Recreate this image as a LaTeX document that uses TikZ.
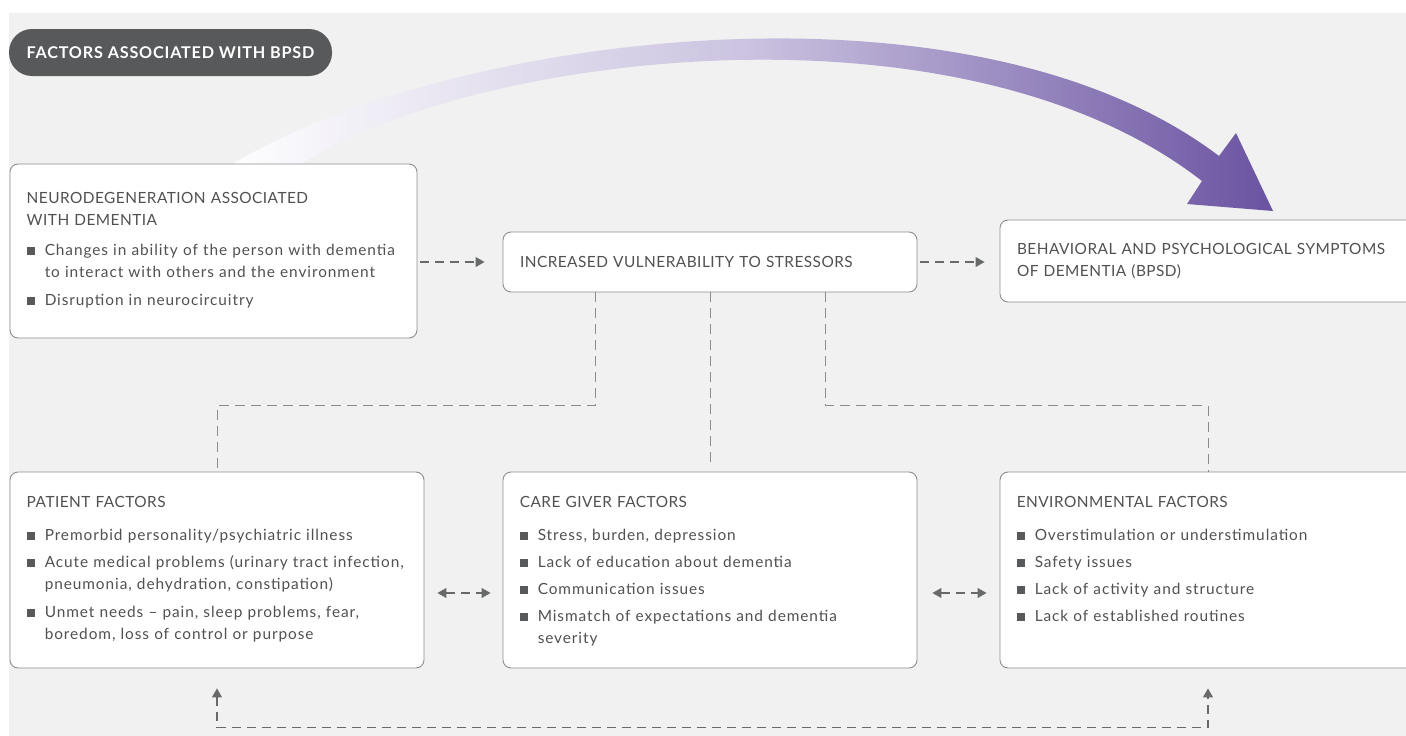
\documentclass[tikz,border=0pt]{standalone}
\usepackage{fontspec}
\setmainfont{Lato}[LetterSpace=6]
\usetikzlibrary{arrows.meta,calc,positioning}
\definecolor{backdrop}{HTML}{F0F1F0}
\definecolor{pill}{HTML}{58595B}
\definecolor{ink}{HTML}{505153}
\definecolor{rim}{HTML}{8E8E8E}
\definecolor{linkgray}{HTML}{68696B}
\definecolor{dropgray}{HTML}{8A8B8C}
\definecolor{lavender}{HTML}{CBC3E0}
\definecolor{violet}{HTML}{6A53A1}
\setlength{\parindent}{0pt}
\newcommand{\headfont}{\addfontfeature{LetterSpace=3}}
\newcommand{\bitem}[1]{\par\vspace{5pt}{\leftskip=18pt\noindent\hspace*{-18pt}\makebox[18pt][l]{\color{pill}\rule[1pt]{8pt}{8pt}}#1\par}}

\begin{document}
\begin{tikzpicture}[x=1pt,y=-1pt,font=\fontsize{15.4}{22}\selectfont,text=ink,
  panel/.style={draw=rim,fill=white,rounded corners=8pt,line width=0.9pt,inner sep=0pt},
  body/.style={anchor=north west,inner sep=0pt,text width=#1,align=left},
  link/.style={draw=linkgray,line width=1.1pt,dash pattern=on 9pt off 6pt},
  drop/.style={draw=dropgray,line width=0.9pt,dash pattern=on 10pt off 6pt},
  tip/.style={-{Triangle[length=9pt,width=10pt]}},
  tips/.style={{Triangle[length=9pt,width=10pt]}-{Triangle[length=9pt,width=10pt]}}]
  \useasboundingbox (0,0) rectangle (1406,736);
  \clip (0,0) rectangle (1406,736);
  \fill[backdrop] (9,13) rectangle (1406,736);

  \node[fill=pill,rounded corners=23pt,minimum width=323pt,minimum height=47pt,inner sep=0pt,
    text=white,font=\fontsize{16.2}{18}\selectfont\bfseries\addfontfeature{LetterSpace=5}] (title) at (170.5,52.5) {FACTORS ASSOCIATED WITH BPSD};

  \shade[left color=white,right color=violet,middle color=lavender]
    (220,172) .. controls (420,40) and (960,-40) .. (1219,156) -- (1236,133) -- (1273,211)
    -- (1187,204) -- (1202,181) .. controls (950,-15) and (440,60) .. (290,172) -- cycle;

  \node[panel,minimum width=407pt,minimum height=174pt] (neuro) at (213.5,251) {};
  \node[panel,minimum width=414pt,minimum height=60pt,text width=380pt,align=left] (vuln) at (710,262)
    {\headfont INCREASED VULNERABILITY TO STRESSORS};
  \node[panel,minimum width=416pt,minimum height=82pt,text width=382pt,align=left] (bpsd) at (1208,261)
    {\headfont BEHAVIORAL AND PSYCHOLOGICAL SYMPTOMS\\OF DEMENTIA (BPSD)};
  \node[panel,minimum width=414pt,minimum height=196pt] (patient) at (217,570) {};
  \node[panel,minimum width=414pt,minimum height=196pt] (carer) at (710,570) {};
  \node[panel,minimum width=416pt,minimum height=196pt] (env) at (1208,570) {};

  \node[body=385pt] (neurotxt) at ([shift={(17pt,-29pt)}]neuro.north west) {{\headfont NEURODEGENERATION ASSOCIATED\\WITH DEMENTIA}\par\vspace{3pt}
    \bitem{Changes in ability of the person with dementia\\to interact with others and the environment}
    \vspace{1pt}\bitem{Disruption in neurocircuitry}};
  \node[body=400pt] (patienttxt) at ([shift={(17pt,-25pt)}]patient.north west) {{\headfont PATIENT FACTORS}\par\vspace{6pt}
    \bitem{Premorbid personality/psychiatric illness}
    \bitem{Acute medical problems (urinary tract infection,\\pneumonia, dehydration, constipation)}
    \vspace{1pt}\bitem{Unmet needs – pain, sleep problems, fear,\\boredom, loss of control or purpose}};
  \node[body=390pt] (carertxt) at ([shift={(17pt,-25pt)}]carer.north west) {{\headfont CARE GIVER FACTORS}\par\vspace{6pt}
    \bitem{Stress, burden, depression}
    \bitem{Lack of education about dementia}
    \bitem{Communication issues}
    \bitem{Mismatch of expectations and dementia\\severity}};
  \node[body=390pt] (envtxt) at ([shift={(17pt,-25pt)}]env.north west) {{\headfont ENVIRONMENTAL FACTORS}\par\vspace{6pt}
    \bitem{Overstimulation or understimulation}
    \bitem{Safety issues}
    \bitem{Lack of activity and structure}
    \bitem{Lack of established routines}};

  \draw[link,tip,shorten <=3pt,shorten >=18pt] (neuro.east |- vuln) -- (vuln);
  \draw[link,tip,shorten <=3pt,shorten >=15pt] (vuln.east) -- (vuln.east -| bpsd.west);
  \draw[drop] ($(vuln.south west)+(93,0)$) -- ++(0,113) -| (patient.north);
  \draw[drop,shorten >=5pt] (vuln) -- (carer);
  \draw[drop] ($(vuln.south east)+(-92,0)$) -- ++(0,113) -| (env.north);
  \draw[link,tips,shorten <=13pt,shorten >=12pt] ([yshift=-23pt]patient.east) -- ([yshift=-23pt]carer.west);
  \draw[link,tips,shorten <=15pt,shorten >=13pt] ([yshift=-23pt]carer.east) -- ([yshift=-23pt]env.west);
  \draw[link,tips,shorten <=20pt,shorten >=20pt] (patient.south) -- ++(0,59) -| (env.south);
\end{tikzpicture}
\end{document}
